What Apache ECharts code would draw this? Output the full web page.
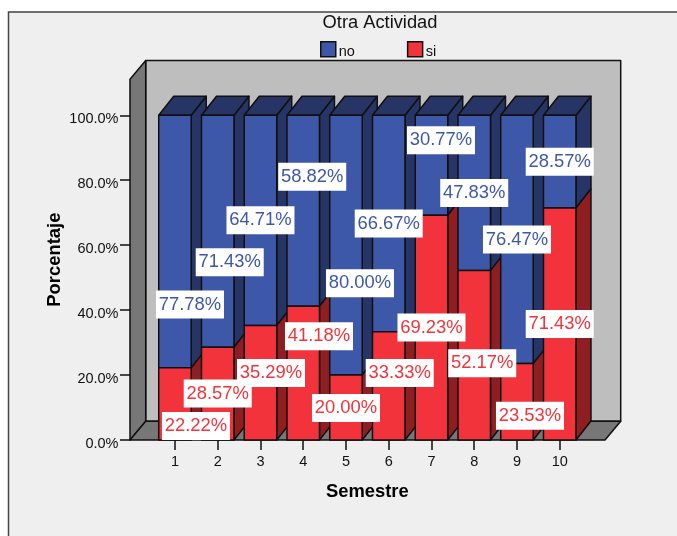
<!DOCTYPE html>
<html>
<head>
<meta charset="utf-8">
<style>html,body{margin:0;padding:0;background:#fff}#c{width:677px;height:536px}</style>
<script src="https://cdn.jsdelivr.net/npm/echarts@6/dist/echarts.min.js"></script>
</head>
<body>
<div id="c"></div>
<script>
const semestres = ['1','2','3','4','5','6','7','8','9','10'];
const siValues = [22.22,28.57,35.29,41.18,20.00,33.33,69.23,52.17,23.53,71.43];
const noValues = [77.78,71.43,64.71,58.82,80.00,66.67,30.77,47.83,76.47,28.57];

// label displacement from the middle of each segment (layout only)
const siShiftX = [21,0,10.5,15.75,0,11,0,8,13,0];
const siShiftY = [22,0,-9.7,-37,0.5,-13,0,8,14,0];
const noShiftX = [15,12,0,9,14,0,9.5,0,0,0];
const noShiftY = [63,31,0,-34,38,0,-25,0,0,0];

const FONT = '"Liberation Sans", Arial, sans-serif';
const EDGE = '#101010';
const DX = 15, DY = 19;
const c = {
  noFront:'#3E58A9', noDark:'#263566', siFront:'#F2333B', siDark:'#8E1E22',
  back:'#BEBEBE', wall:'#777777', bg:'#EFEFEF'
};

function poly(points, fill, z2, lw){
  return {type:'polygon', z2:z2, shape:{points:points},
    style:{fill:fill, stroke:EDGE, lineWidth:lw||1.5, lineJoin:'round'}};
}

function segmentRenderer(front, dark, shiftX, shiftY, isTop){
  return function(params, api){
    const i = params.dataIndex;
    const base = api.value(1), val = api.value(2);
    const lo = api.coord([i, base]), hi = api.coord([i, base+val]);
    const w = api.size([1,0])[0]*0.76;
    const x0 = lo[0]-w/2, x1 = lo[0]+w/2;
    const z = 10+i*3;
    const kids = [
      poly([[x1,lo[1]],[x1+DX,lo[1]-DY],[x1+DX,hi[1]-DY],[x1,hi[1]]], dark, z),
      poly([[x0,lo[1]],[x1,lo[1]],[x1,hi[1]],[x0,hi[1]]], front, z+1)
    ];
    if(isTop){
      kids.push(poly([[x0,hi[1]],[x0+DX,hi[1]-DY],[x1+DX,hi[1]-DY],[x1,hi[1]]], dark, z));
    }
    const cx = lo[0]+shiftX[i], cy = (lo[1]+hi[1])/2+shiftY[i];
    kids.push({type:'rect', z2:500, shape:{x:cx-34,y:cy-14,width:68,height:28}, style:{fill:'#fff'}});
    kids.push({type:'text', z2:501, style:{x:cx, y:cy, text:val.toFixed(2)+'%', fill:front,
      font:'18.4px '+FONT, align:'center', verticalAlign:'middle'}});
    return {type:'group', children:kids};
  };
}

function shellRenderer(params, api){
  const cs = params.coordSys;
  const L = cs.x-23.6, R = cs.x+cs.width+23.9, B = cs.y+cs.height, T = cs.y-36;
  const bx = 15.7, by = 18.7;
  return {type:'group', children:[
    poly([[L+bx,T-by],[R+bx,T-by],[R+bx,B-by],[L+bx,B-by]], c.back, 1),
    poly([[L,T],[L+bx,T-by],[L+bx,B-by],[L,B]], c.wall, 2),
    poly([[L,B],[L+bx,B-by],[R+bx,B-by],[R,B]], c.wall, 2)
  ]};
}

const chart = echarts.init(document.getElementById('c'));
chart.setOption({
  animation:false,
  backgroundColor:'#fff',
  textStyle:{fontFamily:FONT},
  title:{text:'Otra Actividad', left:375, top:9, textAlign:'center',
    textStyle:{fontFamily:FONT,fontSize:18.3,fontWeight:'normal',color:'#111'}},
  legend:{left:315, top:36, itemWidth:15, itemHeight:15, itemGap:52, icon:'rect', selectedMode:false,
    data:['no','si'],
    formatter:n=>'{a|'+n+'}',
    itemStyle:{borderColor:EDGE,borderWidth:1.5},
    textStyle:{fontFamily:FONT,fontSize:14.5,color:'#111',
      rich:{a:{fontFamily:FONT,fontSize:14.5,color:'#111',padding:[5.4,0,0,-2]}}}},
  graphic:[{type:'rect', silent:true, z:-1, shape:{x:8.5,y:12,width:690,height:540},
    style:{fill:c.bg, stroke:'#444', lineWidth:1.5}}],
  grid:{left:153.6, right:95.9, top:115.3, bottom:96},
  xAxis:{type:'category', data:semestres, name:'Semestre', nameLocation:'middle', nameGap:43,
    nameTextStyle:{fontFamily:FONT,fontSize:18.4,fontWeight:'bold',color:'#000'},
    axisLine:{show:false},
    axisTick:{show:true,alignWithLabel:true,length:10,lineStyle:{color:EDGE,width:1.5}},
    axisLabel:{color:'#111',fontFamily:FONT,fontSize:14.5,margin:14}},
  yAxis:{type:'value', min:0, max:100, interval:20, offset:23.6,
    name:'Porcentaje', nameLocation:'middle', nameRotate:90, nameGap:66, nameMoveOverlap:false,
    nameTextStyle:{fontFamily:FONT,fontSize:18.4,fontWeight:'bold',color:'#000',padding:[0,0,0,36]},
    axisLine:{show:false}, splitLine:{show:false},
    axisTick:{show:true,length:10,lineStyle:{color:EDGE,width:1.5}},
    axisLabel:{color:'#111',fontFamily:FONT,fontSize:14.5,margin:11.5,
      formatter:v=>'{a|'+v.toFixed(1)+'%}',
      rich:{a:{fontFamily:FONT,fontSize:14.5,color:'#111',padding:[7,0,0,0]}}}},
  series:[
    {type:'custom', name:'shell', silent:true, z:1, data:[[0,0]], renderItem:shellRenderer, encode:{x:0,y:1}},
    {type:'custom', name:'no', silent:true, z:2, itemStyle:{color:c.noFront},
      data:noValues.map((v,i)=>[i,siValues[i],v]),
      encode:{x:0,y:1}, renderItem:segmentRenderer(c.noFront,c.noDark,noShiftX,noShiftY,true)},
    {type:'custom', name:'si', silent:true, z:2, itemStyle:{color:c.siFront},
      data:siValues.map((v,i)=>[i,0,v]),
      encode:{x:0,y:1}, renderItem:segmentRenderer(c.siFront,c.siDark,siShiftX,siShiftY,false)}
  ]
});
</script>
</body>
</html>
